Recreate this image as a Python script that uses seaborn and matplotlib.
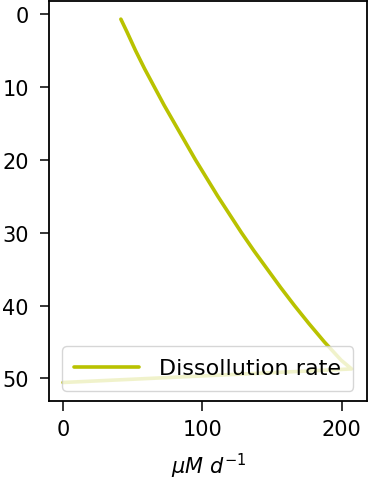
import matplotlib
matplotlib.use("Agg")
import matplotlib.pyplot as plt
import seaborn as sns
import pandas as pd

depth = [0.7, 2.5, 5, 7.5, 10, 12.5, 15, 17.5, 20, 22.5, 25, 27.5, 30,
         32.5, 35, 37.5, 40, 42.5, 45, 47.5, 48.7, 50.56]
rate = [41.5, 46, 52, 58.5, 65.5, 72.5, 80, 87.5, 95, 103, 111, 119.5, 128,
        137, 146.5, 156, 166, 176.5, 187.5, 199.5, 207, 0]

sns.set_style("ticks", {"axes.edgecolor": "black", "xtick.color": "black",
                        "ytick.color": "black", "text.color": "black",
                        "axes.labelcolor": "black"})
plt.rcParams['font.family'] = ['DejaVu Sans']

fig = plt.figure(figsize=(3.71, 4.81), dpi=100)
ax = fig.add_axes([0.133, 0.165, 0.856, 0.831])

df = pd.DataFrame({"rate": rate, "depth": depth})
sns.lineplot(data=df, x="rate", y="depth", sort=False, estimator=None,
             color="#b9c200", linewidth=2.6, label="Dissollution rate", ax=ax)

ax.set_ylim(53.05, -1.8)
ax.set_xlim(-9.8, 218)
ax.set_yticks([0, 10, 20, 30, 40, 50])
ax.set_xticks([0, 100, 200])
ax.tick_params(labelsize=15, width=1.1)
ax.tick_params(axis="y", length=6.3, pad=8.5)
ax.tick_params(axis="x", length=7, pad=6.5)
ax.set_ylabel("")
ax.set_xlabel(r"$\mu M\ d^{-1}$", fontsize=15, labelpad=8)
for s in ax.spines.values():
    s.set_linewidth(1.3)
    s.set_visible(True)
ax.legend(loc="lower right", fontsize=16, handlelength=2.9,
          handletextpad=0.9, borderpad=0.55,
          bbox_to_anchor=(0.956, 0.025), borderaxespad=0)

fig.savefig("out.png", dpi=100)
